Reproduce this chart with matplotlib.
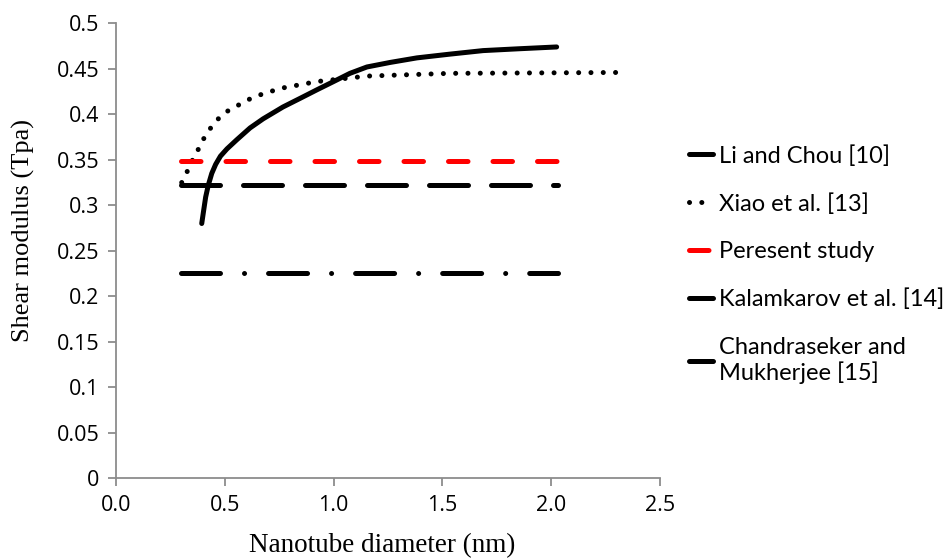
import matplotlib
matplotlib.use("Agg")
import matplotlib.pyplot as plt

# ---- data ----
li_x = [0.394, 0.402, 0.412, 0.424, 0.440, 0.458, 0.480, 0.510, 0.555, 0.616, 0.676, 0.767, 0.850, 0.924, 1.000, 1.075, 1.153, 1.260, 1.383, 1.530, 1.687, 1.850, 2.025]
li_y = [0.280, 0.293, 0.309, 0.322, 0.335, 0.345, 0.354, 0.362, 0.372, 0.385, 0.395, 0.408, 0.418, 0.427, 0.436, 0.445, 0.452, 0.457, 0.462, 0.466, 0.470, 0.472, 0.474]

xiao_x = [0.302, 0.325, 0.348, 0.375, 0.400, 0.432, 0.470, 0.509, 0.607, 0.680, 0.767, 0.924, 1.153, 1.535, 2.339]
xiao_y = [0.325, 0.336, 0.348, 0.360, 0.372, 0.384, 0.395, 0.403, 0.416, 0.423, 0.429, 0.436, 0.442, 0.445, 0.446]

hline_x = [0.30, 2.03]
present_y = [0.349, 0.349]
kalam_y = [0.322, 0.322]
chandra_y = [0.226, 0.226]

labels = ["Li and Chou [10]", "Xiao et al. [13]", "Peresent study",
          "Kalamkarov et al. [14]", "Chandraseker and\nMukherjee [15]"]

x_ticks = [0.0, 0.5, 1.0, 1.5, 2.0, 2.5]
y_ticks = [0, 0.05, 0.1, 0.15, 0.2, 0.25, 0.3, 0.35, 0.4, 0.45, 0.5]
y_ticklabels = ["0", "0.05", "0.1", "0.15", "0.2", "0.25", "0.3", "0.35", "0.4", "0.45", "0.5"]

# ---- figure ----
fig = plt.figure(figsize=(9.53, 5.58), dpi=100)
ax = fig.add_axes([116/953, 1-478.3/558, (660-116)/953, (478.3-23.3)/558])

lw = 3.6
ax.plot(li_x, li_y, color="black", lw=lw, solid_capstyle="round", solid_joinstyle="round", label=labels[0])
ax.plot(xiao_x, xiao_y, color="black", lw=lw, linestyle=(0, (0.01, 2.45)), dash_capstyle="round", label=labels[1])
ax.plot(hline_x, present_y, color="#ff0000", lw=lw, linestyle=(0, (3.9, 5.0)), dash_capstyle="round", label=labels[2])
ax.plot(hline_x, kalam_y, color="black", lw=lw, linestyle=(0, (7.8, 4.6)), dash_capstyle="round", label=labels[3])
ax.plot(hline_x, chandra_y, color="black", lw=lw, linestyle=(0, (7.8, 4.8, 0.01, 4.8)), dash_capstyle="round", label=labels[4])

ax.set_xlim(0, 2.5)
ax.set_ylim(0, 0.5)
ax.set_xticks(x_ticks)
ax.set_xticklabels([f"{v:.1f}" for v in x_ticks])
ax.set_yticks(y_ticks)
ax.set_yticklabels(y_ticklabels)

for s in ["top", "right"]:
    ax.spines[s].set_visible(False)
for s in ["left", "bottom"]:
    ax.spines[s].set_color("#8c8c8c")
    ax.spines[s].set_linewidth(1.3)
ax.tick_params(axis="both", direction="out", length=6, width=1.3, color="#8c8c8c",
               labelsize=15.5, labelcolor="black", pad=6)
for t in ax.get_xticklabels() + ax.get_yticklabels():
    t.set_fontfamily("Open Sans")

ax.set_xlabel("Nanotube diameter (nm)", fontfamily="Liberation Serif", fontsize=19.5)
ax.set_ylabel("Shear modulus (Tpa)", fontfamily="Liberation Serif", fontsize=19)
ax.xaxis.set_label_coords((382.5-116)/544, (478.3-546)/455)
ax.xaxis.label.set_va("center")
ax.yaxis.set_label_coords((23-116)/544, (478.3-230)/455)
ax.yaxis.label.set_va("center")

leg = ax.legend(loc="upper left", bbox_to_anchor=(689/953, 1-145/558), bbox_transform=fig.transFigure,
                frameon=False, prop={"family": "Lato", "size": 17},
                handlelength=1.0, handletextpad=0.25, labelspacing=1.12,
                borderpad=0, borderaxespad=0)

fig.savefig("out.png", dpi=100)
